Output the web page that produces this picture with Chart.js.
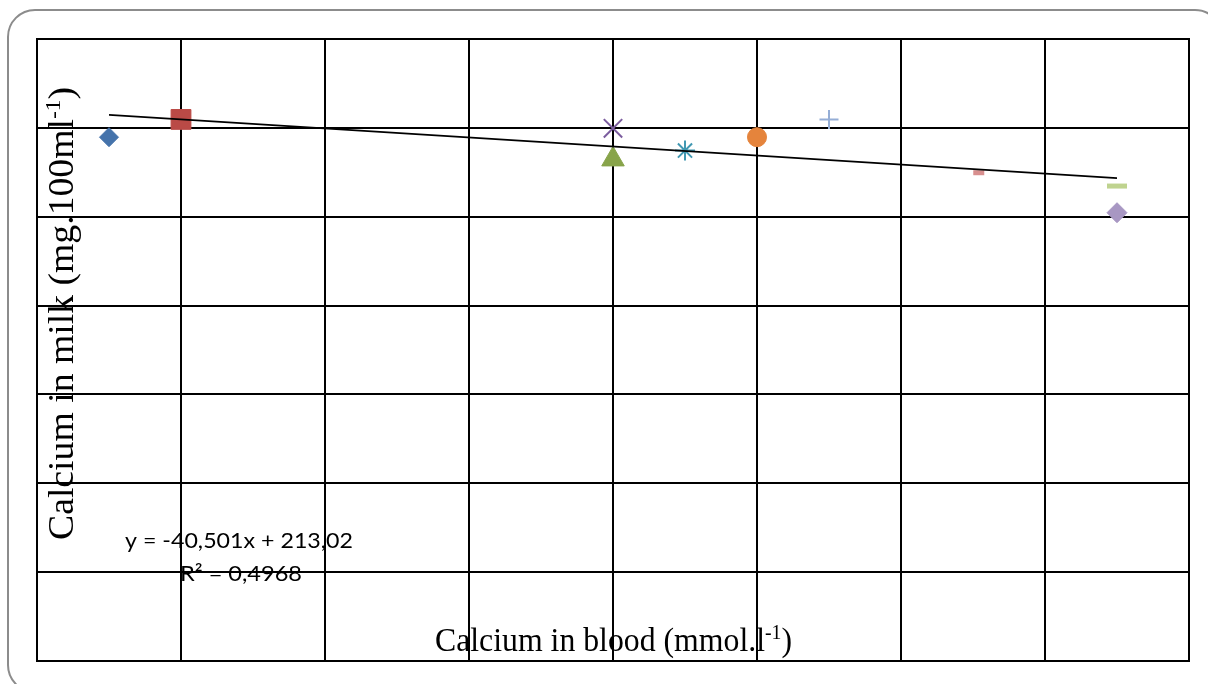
<!DOCTYPE html>
<html>
<head>
<meta charset="utf-8">
<script src="https://cdn.jsdelivr.net/npm/chart.js@4.4.1/dist/chart.umd.min.js"></script>
<style>
  html, body { margin: 0; padding: 0; background: #ffffff; }
  #wrap { position: relative; width: 1208px; height: 684px; }
</style>
</head>
<body>
<div id="wrap"><canvas id="c" width="1208" height="684"></canvas></div>
<script>
// ---- data ----
const xTicks = [2.2, 2.25, 2.3, 2.35, 2.4, 2.45, 2.5, 2.55, 2.6];
const yTicks = [0, 20, 40, 60, 80, 100, 120, 140];
const xValues = [2.225, 2.25, 2.4, 2.4, 2.425, 2.45, 2.475, 2.527, 2.575, 2.575];
const yValues = [117.9, 121.9, 112.9, 119.9, 114.9, 117.9, 121.9, 109.9, 106.9, 100.9];
const trendX = [2.225, 2.575];
const trendY = [122.9, 108.7];
const xTitle = ['Calcium in blood (mmol.l', '-1', ')'];
const yTitle = ['Calcium in milk (mg.100ml', '-1', ')'];
const eqLine1 = 'y = -40,501x + 213,02';
const eqLine2 = 'R² = 0,4968';

// ---- styles ----
const markerStyles = [
  { style: 'rectRot',  color: '#4573AB', r: 9.5, bw: 1 },
  { style: 'rect',     color: '#BA4A46', r: 14,  bw: 1 },
  { style: 'triangle', color: '#88A44A', r: 13,  bw: 1 },
  { style: 'crossRot', color: '#7B5C9E', r: 13,  bw: 2 },
  { style: 'star',     color: '#4198B2', r: 10,  bw: 2 },
  { style: 'circle',   color: '#E5843C', r: 9.5, bw: 1 },
  { style: 'cross',    color: '#95AED6', r: 9.5, bw: 2 },
  { style: 'line',     color: '#D88F8E', r: 5.5, bw: 5 },
  { style: 'line',     color: '#BFD38F', r: 10,  bw: 5 },
  { style: 'rectRot',  color: '#A897C3', r: 10,  bw: 1 }
];

const datasets = xValues.map((x, i) => ({
  label: 'Series ' + (i + 1),
  data: [{ x: x, y: yValues[i] }],
  pointStyle: markerStyles[i].style,
  pointRadius: markerStyles[i].r,
  pointHoverRadius: markerStyles[i].r,
  backgroundColor: markerStyles[i].color,
  borderColor: markerStyles[i].color,
  pointBorderWidth: markerStyles[i].bw,
  borderWidth: markerStyles[i].bw,
  showLine: false,
  order: 2
}));
datasets.push({
  label: 'Trend',
  data: trendX.map((x, i) => ({ x: x, y: trendY[i] })),
  showLine: true,
  borderColor: '#000000',
  borderWidth: 1.8,
  pointRadius: 0,
  fill: false,
  order: 0
});

function drawRich(ctx, parts, family, size, cx, baseline, targetWidth, rotate, vscale) {
  const supSize = size * 0.62;
  const widths = parts.map((p, i) => {
    ctx.font = (i === 1 ? supSize : size) + 'px ' + family;
    return ctx.measureText(p).width;
  });
  const total = widths.reduce((a, b) => a + b, 0);
  const sx = targetWidth / total;
  ctx.save();
  ctx.translate(cx, baseline);
  if (rotate) ctx.rotate(-Math.PI / 2);
  ctx.scale(sx, vscale || 1);
  ctx.fillStyle = '#000000';
  ctx.textBaseline = 'alphabetic';
  ctx.textAlign = 'left';
  let x = -total / 2;
  parts.forEach((p, i) => {
    const sup = parts.length === 3 && i === 1;
    ctx.font = (sup ? supSize : size) + 'px ' + family;
    ctx.fillText(p, x, sup ? -size * 0.36 : 0);
    x += widths[i];
  });
  ctx.restore();
}

const decor = {
  id: 'decor',
  beforeDraw(chart) {
    const ctx = chart.ctx;
    ctx.save();
    ctx.fillStyle = '#ffffff';
    ctx.fillRect(0, 0, chart.width, chart.height);
    ctx.strokeStyle = '#8c8c8c';
    ctx.lineWidth = 2;
    ctx.beginPath();
    ctx.roundRect(8, 10, 1214, 682, 27);
    ctx.stroke();
    ctx.restore();
  },
  afterDatasetsDraw(chart) {
    const ctx = chart.ctx;
    const a = chart.chartArea;
    ctx.save();
    ctx.strokeStyle = '#000000';
    ctx.lineWidth = 2;
    ctx.strokeRect(a.left, a.top, a.right - a.left, a.bottom - a.top);
    ctx.restore();
    drawRich(ctx, xTitle, '"Liberation Serif", "Times New Roman", serif', 32, 613.5, 651, 357, false, 1.05);
    drawRich(ctx, yTitle, '"Liberation Serif", "Times New Roman", serif', 35, 73, 313.5, 453, true, 1.0);
    drawRich(ctx, [eqLine1], 'Lato, "Open Sans", sans-serif', 22, 239, 548, 228, false, 1.0);
    drawRich(ctx, [eqLine2], 'Lato, "Open Sans", sans-serif', 22, 241, 580.5, 122, false, 1.0);
  }
};

const gridCommon = { color: '#000000', lineWidth: 2, drawTicks: false, tickLength: 0 };

new Chart(document.getElementById('c'), {
  type: 'scatter',
  data: { datasets: datasets },
  plugins: [decor],
  options: {
    responsive: false,
    animation: false,
    events: [],
    layout: { padding: { left: 37, top: 39, right: 19, bottom: 23 } },
    plugins: { legend: { display: false }, tooltip: { enabled: false } },
    scales: {
      x: {
        type: 'linear',
        min: xTicks[0], max: xTicks[xTicks.length - 1],
        grid: gridCommon,
        border: { display: true, color: '#000000', width: 2 },
        ticks: { display: false },
        afterBuildTicks: (s) => { s.ticks = xTicks.map(v => ({ value: v })); }
      },
      y: {
        type: 'linear',
        min: yTicks[0], max: yTicks[yTicks.length - 1],
        grid: gridCommon,
        border: { display: true, color: '#000000', width: 2 },
        ticks: { display: false },
        afterBuildTicks: (s) => { s.ticks = yTicks.map(v => ({ value: v })); }
      }
    }
  }
});
</script>
</body>
</html>
